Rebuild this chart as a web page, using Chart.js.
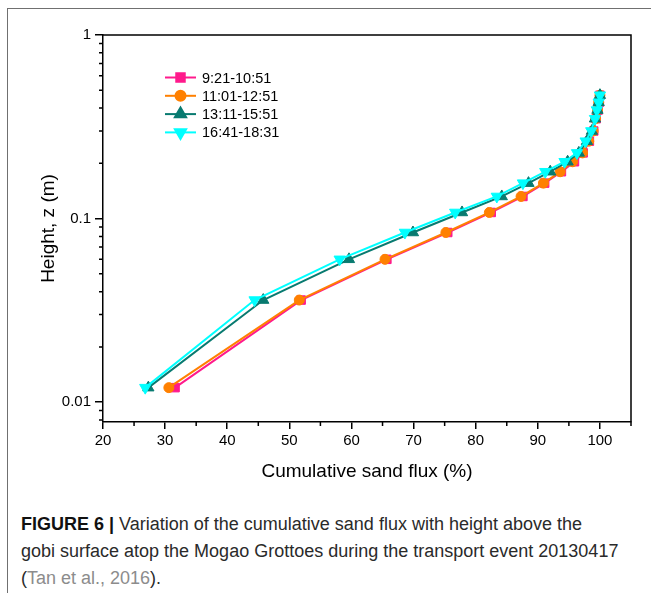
<!DOCTYPE html>
<html>
<head>
<meta charset="utf-8">
<script src="https://cdn.jsdelivr.net/npm/chart.js@4.4.1/dist/chart.umd.min.js"></script>
<style>
  html, body { margin: 0; padding: 0; background: #fff; }
  body { width: 651px; height: 593px; position: relative; overflow: hidden; font-family: Arial, "Liberation Sans", Helvetica, sans-serif; }
  #frame { position: absolute; left: 7px; top: 8px; right: 0; bottom: 0; border-top: 1.5px solid #707070; border-left: 1.5px solid #707070; }
  #wrap { position: absolute; left: 0; top: 0; width: 651px; height: 495px; }
  #caption { position: absolute; left: 21px; top: 511px; width: 628px; font-size: 18px; line-height: 27px; color: #2a2a2a; white-space: nowrap; }
  #caption b { color: #111; }
  #caption .ref { color: #8c8c8c; }
</style>
</head>
<body>
<div id="frame"></div>
<div id="wrap"><canvas id="grafico"></canvas></div>
<div id="caption"><b>FIGURE 6 |</b> Variation of the cumulative sand flux with height above the<br>gobi surface atop the Mogao Grottoes during the transport event 20130417<br>(<span class="ref">Tan et al., 2016</span>).</div>

<script>
// heights of the sampling levels (m)
const heightZ = [0.012, 0.036, 0.06, 0.084, 0.108, 0.132, 0.156, 0.18, 0.204, 0.228, 0.264, 0.30, 0.35, 0.39, 0.43, 0.47];

// cumulative sand flux (%) per period
const flux0921 = [31.6, 51.9, 65.7, 75.5, 82.5, 87.6, 91.1, 93.8, 95.9, 97.3, 98.3, 99.0, 99.4, 99.7, 99.9, 100];
const flux1101 = [30.6, 51.6, 65.4, 75.2, 82.2, 87.3, 90.9, 93.6, 95.6, 97.2, 98.2, 98.9, 99.3, 99.6, 99.8, 100];
const flux1311 = [27.3, 45.8, 59.6, 69.9, 77.8, 84.2, 88.5, 92.0, 94.8, 96.6, 97.9, 98.7, 99.2, 99.6, 99.8, 100];
const flux1641 = [26.8, 44.4, 58.1, 68.6, 76.7, 83.4, 87.6, 91.2, 94.3, 96.3, 97.7, 98.6, 99.2, 99.5, 99.8, 100];

const periods = ['9:21-10:51', '11:01-12:51', '13:11-15:51', '16:41-18:31'];

// axis ticks
const xTicks = [20, 30, 40, 50, 60, 70, 80, 90, 100];
const xMinor = [25, 35, 45, 55, 65, 75, 85, 95, 105];
const yTicks = [0.01, 0.1, 1];
const yMinor = [0.008, 0.009, 0.02, 0.03, 0.04, 0.05, 0.06, 0.07, 0.08, 0.09,
                0.2, 0.3, 0.4, 0.5, 0.6, 0.7, 0.8, 0.9];

const estilos = [
  { color: '#ff1a8c', pointStyle: 'rect', radius: 6, rotation: 0 },
  { color: '#ff8000', pointStyle: 'circle', radius: 5, rotation: 0 },
  { color: '#087a70', pointStyle: 'triangle', radius: 6.5, rotation: 0 },
  { color: '#00ffff', pointStyle: 'triangle', radius: 6.5, rotation: 180 },
];

function pontos(serie) {
  return heightZ.map((h, i) => ({ x: serie[i], y: h }));
}

// frame, minor ticks and legend inside the plot
const extras = {
  id: 'extras',
  afterDraw(chart) {
    const ctx = chart.ctx;
    const a = chart.chartArea;
    const xs = chart.scales.x;
    const ys = chart.scales.y;
    ctx.save();
    ctx.strokeStyle = '#000';
    ctx.lineWidth = 1.5;
    ctx.beginPath();
    ctx.moveTo(a.left, a.top);
    ctx.lineTo(a.right, a.top);
    ctx.lineTo(a.right, a.bottom);
    ctx.stroke();

    ctx.beginPath();
    xMinor.forEach(v => {
      const px = xs.getPixelForValue(v);
      ctx.moveTo(px, a.bottom);
      ctx.lineTo(px, a.bottom + 4);
    });
    yMinor.forEach(v => {
      const py = ys.getPixelForValue(v);
      ctx.moveTo(a.left, py);
      ctx.lineTo(a.left - 4, py);
    });
    ctx.stroke();

    // legend
    const lx = a.left + 62;
    const ly = a.top + 42.5;
    ctx.font = '14.5px Arial, "Liberation Sans", sans-serif';
    ctx.textBaseline = 'middle';
    periods.forEach((p, i) => {
      const st = estilos[i];
      const y = ly + i * 18.3;
      ctx.strokeStyle = st.color;
      ctx.fillStyle = st.color;
      ctx.lineWidth = 2;
      ctx.beginPath();
      ctx.moveTo(lx, y);
      ctx.lineTo(lx + 31, y);
      ctx.stroke();
      Chart.helpers.drawPoint(ctx, { pointStyle: st.pointStyle, radius: st.radius, rotation: st.rotation, borderWidth: 1 }, lx + 15.5, y);
      ctx.fillStyle = '#000';
      ctx.fillText(p, lx + 37, y + 1);
    });
    ctx.restore();
  }
};

const ctx = document.getElementById('grafico').getContext('2d');
const series = [flux0921, flux1101, flux1311, flux1641];

new Chart(ctx, {
  type: 'line',
  data: {
    datasets: series.map((s, i) => ({
      label: periods[i],
      data: pontos(s),
      borderColor: estilos[i].color,
      backgroundColor: estilos[i].color,
      pointBackgroundColor: estilos[i].color,
      pointBorderColor: estilos[i].color,
      pointStyle: estilos[i].pointStyle,
      pointRadius: estilos[i].radius,
      pointRotation: estilos[i].rotation,
      pointBorderWidth: 1,
      borderWidth: 2,
      tension: 0,
      fill: false,
      order: 4 - i,
    })),
  },
  options: {
    responsive: true,
    maintainAspectRatio: false,
    animation: false,
    layout: { padding: { top: 35, right: 20, left: 0, bottom: 0 } },
    plugins: {
      legend: { display: false },
      tooltip: { enabled: false },
    },
    scales: {
      x: {
        type: 'linear',
        bounds: 'data',
        min: 20,
        max: 105,
        afterBuildTicks: s => { s.ticks = xTicks.map(v => ({ value: v })); },
        afterFit: s => { s.height = 73; },
        ticks: { color: '#000', font: { size: 15 }, padding: 3, maxRotation: 0, autoSkip: false },
        grid: { drawOnChartArea: false, drawTicks: true, tickLength: 7, color: '#000', lineWidth: 1.5 },
        border: { color: '#000', width: 1.5 },
        title: { display: true, text: 'Cumulative sand flux (%)', color: '#000', font: { size: 19 }, padding: { top: 0, bottom: 12 } },
      },
      y: {
        type: 'logarithmic',
        bounds: 'data',
        min: 0.0078,
        max: 1,
        afterBuildTicks: s => { s.ticks = yTicks.map(v => ({ value: v })); },
        afterFit: s => { s.width = 103; },
        ticks: { color: '#000', font: { size: 15 }, padding: 4, autoSkip: false, callback: v => String(v) },
        grid: { drawOnChartArea: false, drawTicks: true, tickLength: 8, color: '#000', lineWidth: 1.5 },
        border: { color: '#000', width: 1.5 },
        title: { display: true, text: 'Height, z (m)', color: '#000', font: { size: 19 }, padding: { top: 37, bottom: 0 } },
      },
    },
  },
  plugins: [extras],
});
</script>
</body>
</html>
